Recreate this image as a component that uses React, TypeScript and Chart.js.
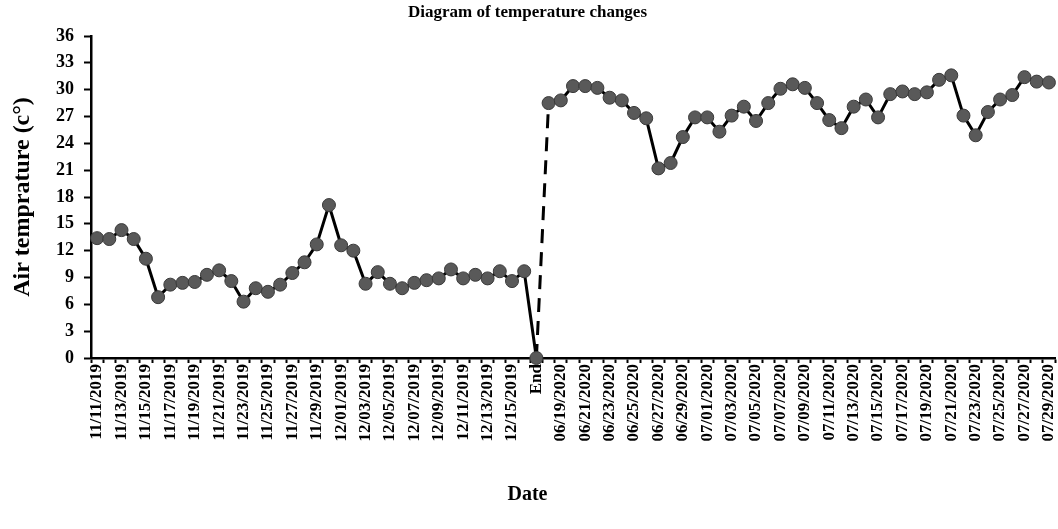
import React, { useEffect, useRef } from "react";
import { Chart, registerables } from "chart.js";

Chart.register(...registerables);

const datesBefore = [
  "11/11/2019", "11/12/2019", "11/13/2019", "11/14/2019", "11/15/2019", "11/16/2019",
  "11/17/2019", "11/18/2019", "11/19/2019", "11/20/2019", "11/21/2019", "11/22/2019",
  "11/23/2019", "11/24/2019", "11/25/2019", "11/26/2019", "11/27/2019", "11/28/2019",
  "11/29/2019", "11/30/2019", "12/01/2019", "12/02/2019", "12/03/2019", "12/04/2019",
  "12/05/2019", "12/06/2019", "12/07/2019", "12/08/2019", "12/09/2019", "12/10/2019",
  "12/11/2019", "12/12/2019", "12/13/2019", "12/14/2019", "12/15/2019", "12/16/2019",
];
const separatorLabel = ["End"];
const datesAfter = [
  "06/18/2020", "06/19/2020", "06/20/2020", "06/21/2020", "06/22/2020", "06/23/2020",
  "06/24/2020", "06/25/2020", "06/26/2020", "06/27/2020", "06/28/2020", "06/29/2020",
  "06/30/2020", "07/01/2020", "07/02/2020", "07/03/2020", "07/04/2020", "07/05/2020",
  "07/06/2020", "07/07/2020", "07/08/2020", "07/09/2020", "07/10/2020", "07/11/2020",
  "07/12/2020", "07/13/2020", "07/14/2020", "07/15/2020", "07/16/2020", "07/17/2020",
  "07/18/2020", "07/19/2020", "07/20/2020", "07/21/2020", "07/22/2020", "07/23/2020",
  "07/24/2020", "07/25/2020", "07/26/2020", "07/27/2020", "07/28/2020", "07/29/2020",
];

const tempBefore = [
  13.4, 13.3, 14.3, 13.3, 11.1, 6.8, 8.2, 8.4, 8.5, 9.3, 9.8, 8.6,
  6.3, 7.8, 7.4, 8.2, 9.5, 10.7, 12.7, 17.1, 12.6, 12.0, 8.3, 9.6,
  8.3, 7.8, 8.4, 8.7, 8.9, 9.9, 8.9, 9.3, 8.9, 9.7, 8.6, 9.7,
];
const tempSeparator = [0];
const tempAfter = [
  28.5, 28.8, 30.4, 30.4, 30.2, 29.1, 28.8, 27.4, 26.8, 21.2, 21.8, 24.7,
  26.9, 26.9, 25.3, 27.1, 28.1, 26.5, 28.5, 30.1, 30.6, 30.2, 28.5, 26.6,
  25.7, 28.1, 28.9, 26.9, 29.5, 29.8, 29.5, 29.7, 31.1, 31.6, 27.1, 24.9,
  27.5, 28.9, 29.4, 31.4, 30.9, 30.8,
];

const yMin = 0;
const yMax = 36;
const yStep = 3;

const categories = [...datesBefore, ...separatorLabel, ...datesAfter];
const temperatures = [...tempBefore, ...tempSeparator, ...tempAfter];
const separatorIndex = datesBefore.length;

const FONT = "'Liberation Serif', 'Times New Roman', serif";

export default function App() {
  const canvasRef = useRef<HTMLCanvasElement | null>(null);

  useEffect(() => {
    const canvas = canvasRef.current;
    if (!canvas) return;
    const chart = new Chart(canvas, {
      type: "line",
      data: {
        labels: categories,
        datasets: [
          {
            label: "Air temperature",
            data: temperatures,
            borderColor: "#000000",
            borderWidth: 3,
            pointRadius: 6.5,
            pointBackgroundColor: "#595959",
            pointBorderColor: "#3a3a3a",
            pointBorderWidth: 1,
            tension: 0,
            clip: false,
            segment: {
              borderDash: (ctx: any) =>
                ctx.p0DataIndex === separatorIndex ? [14, 9] : undefined,
            },
          },
        ],
      },
      options: {
        responsive: false,
        animation: false,
        layout: { autoPadding: false, padding: { left: 0, right: 3, top: 0, bottom: 0 } },
        plugins: {
          legend: { display: false },
          tooltip: { enabled: false },
          title: {
            display: true,
            text: "Diagram of temperature changes",
            color: "#000",
            font: { family: FONT, size: 17, weight: "bold" },
            padding: { top: 2, bottom: 13.6 },
          },
          subtitle: {
            display: true,
            position: "bottom",
            text: "Date",
            color: "#000",
            font: { family: FONT, size: 20, weight: "bold" },
            padding: { top: 10, bottom: 22 },
          },
        },
        scales: {
          x: {
            type: "category",
            offset: true,
            afterFit: (scale: any) => {
              scale.height = 115;
              scale.paddingLeft = 0;
              scale.paddingRight = 0;
            },
            border: { display: true, color: "#000", width: 2.5 },
            grid: {
              display: true,
              offset: true,
              drawOnChartArea: false,
              drawTicks: true,
              tickLength: 5,
              tickWidth: 2,
              tickColor: "#000",
            },
            ticks: {
              autoSkip: false,
              maxRotation: 90,
              minRotation: 90,
              padding: 1,
              color: "#000",
              font: { family: FONT, size: 17, weight: "bold" },
              callback: function (this: any, value: any, index: number) {
                return index % 2 === 0 ? this.getLabelForValue(value) : "";
              },
            },
          },
          y: {
            min: yMin,
            max: yMax,
            afterFit: (scale: any) => {
              scale.width = 91;
            },
            border: { display: true, color: "#000", width: 2.5 },
            grid: {
              display: true,
              drawOnChartArea: false,
              drawTicks: true,
              tickLength: 7,
              tickWidth: 2,
              tickColor: "#000",
            },
            ticks: {
              stepSize: yStep,
              padding: 10,
              color: "#000",
              font: { family: FONT, size: 18, weight: "bold" },
            },
            title: {
              display: true,
              text: "Air temprature (c°)",
              color: "#000",
              font: { family: FONT, size: 24, weight: "bold" },
              padding: { top: 8, bottom: 0 },
            },
          },
        },
      },
    });
    return () => chart.destroy();
  }, []);

  return (
    <div style={{ position: "fixed", left: 0, top: 0, width: 1058, height: 529, background: "#fff" }}>
      <canvas ref={canvasRef} width={1058} height={529} style={{ display: "block" }} />
    </div>
  );
}
